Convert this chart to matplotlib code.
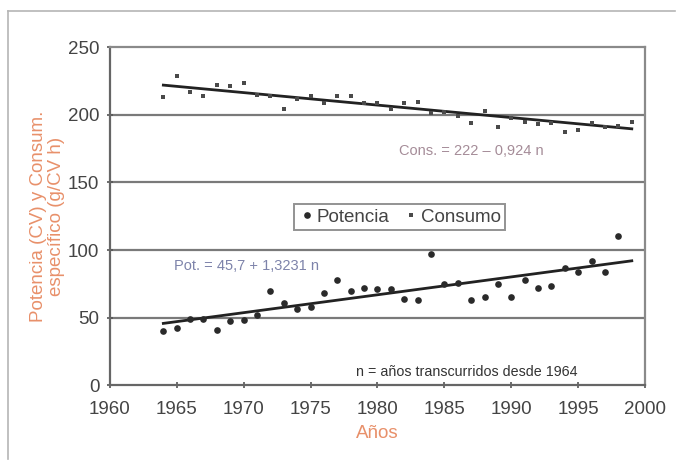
import matplotlib
matplotlib.use("Agg")
import matplotlib.pyplot as plt
import numpy as np
from matplotlib.lines import Line2D

plt.rcParams['font.family'] = ['Liberation Sans', 'DejaVu Sans']

# data
years_pot = list(range(1964, 1999))
potencia = [40, 42, 49, 49, 41, 47.5, 48, 52, 70, 61, 56, 58, 68, 78, 70,
            72, 71, 71.5, 64, 63, 97, 74.5, 75.5, 63, 65, 75, 65, 78, 72, 73,
            86.5, 84, 92, 84, 110.5]
years_cons = list(range(1964, 2000))
consumo = [213.5, 228.5, 217, 214, 222, 221, 223.5, 215, 214, 204, 212, 214,
           209, 214, 214, 209, 208.5, 204.5, 208.5, 209.5, 201, 202, 199, 194,
           202.5, 191, 197.5, 194.5, 193.5, 194, 187.5, 188.5, 194, 191, 192, 194.5]
pot_fit = (45.7, 1.3231)      # Pot. = a + b n
cons_fit = (222.0, -0.924)    # Cons. = a + b n
n0 = 1964
yticks = [0, 50, 100, 150, 200, 250]
xticks = [1960, 1965, 1970, 1975, 1980, 1985, 1990, 1995, 2000]

fig = plt.figure(figsize=(6.82, 4.68), dpi=100)
ax = fig.add_axes([0.161, 0.177, 0.785, 0.722])

# outer frame of the scanned figure
fig.add_artist(Line2D([0.012, 0.012], [0.02, 0.976], color="#b5b5b5", lw=1.2, transform=fig.transFigure))
fig.add_artist(Line2D([0.012, 0.99], [0.976, 0.976], color="#b5b5b5", lw=1.2, transform=fig.transFigure))

for v in yticks[1:-1]:
    ax.axhline(v, color="#7a7a7a", lw=1.6, zorder=1)

fit_x = np.array([1964, 1999])
ax.plot(fit_x, pot_fit[0] + pot_fit[1] * (fit_x - n0), color="#222222", lw=2, zorder=2)
ax.plot(fit_x, cons_fit[0] + cons_fit[1] * (fit_x - n0), color="#222222", lw=2, zorder=2)

ax.plot(years_pot, potencia, "o", color="#2a2a2a", ms=4.8, mew=0, zorder=3, label="Potencia")
ax.plot(years_cons, consumo, "s", color="#4a4a4a", ms=3.4, mew=0, zorder=3, label="Consumo")

ax.set_xlim(1960, 2000)
ax.set_ylim(0, 250)
ax.set_xticks(xticks)
ax.set_yticks(yticks)
ax.tick_params(axis="both", colors="#555555", labelcolor="#444444", labelsize=13.5,
               direction="inout", length=5, width=1.2)
ax.tick_params(axis="y", pad=5)
ax.tick_params(axis="x", pad=9)
for s in ax.spines.values():
    s.set_color("#8a8a8a")
    s.set_linewidth(1.6)
ax.spines["bottom"].set_color("#666666")
ax.spines["left"].set_color("#666666")

ax.text(1981.6, 173.5, "Cons. = 222 \u2013 0,924 n", color="#a58c98", fontsize=10.5, va="center")
ax.text(1964.8, 88, "Pot. = 45,7 + 1,3231 n", color="#7d83aa", fontsize=10.5, va="center")
ax.text(1978.4, 10, "n = a\u00f1os transcurridos desde 1964", color="#333333", fontsize=10.3, va="center")

leg = ax.legend(loc="center", bbox_to_anchor=(0.542, 0.497), ncol=2, fontsize=13.5, frameon=True,
                fancybox=False, edgecolor="#777777", handletextpad=0.1, columnspacing=0.8,
                handlelength=0.8, borderpad=0.25, markerscale=1.0)
leg.get_frame().set_linewidth(1.4)
for t in leg.get_texts():
    t.set_color("#444444")

ax.set_ylabel("Potencia (CV) y Consum.\nespec\u00edfico (g/CV h)", color="#e8906a", fontsize=13.5,
              labelpad=2, linespacing=1.05)
ax.set_xlabel("A\u00f1os", color="#e8906a", fontsize=13.5, labelpad=5)

fig.savefig("out.png", dpi=100, facecolor="white")
